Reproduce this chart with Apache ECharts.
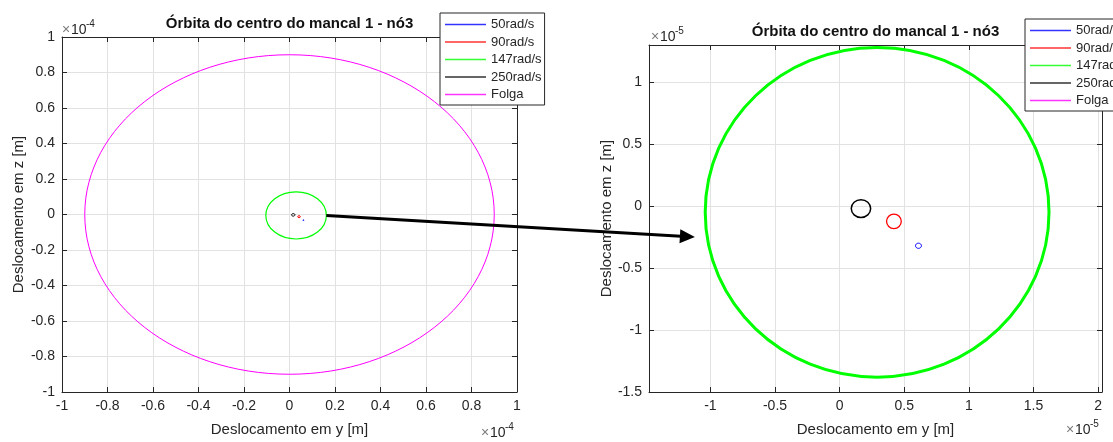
<!DOCTYPE html>
<html><head><meta charset="utf-8">
<script src="https://cdn.jsdelivr.net/npm/echarts@6/dist/echarts.min.js"></script>
<style>html,body{margin:0;padding:0;background:#fff}#c{width:1113px;height:442px}</style>
</head><body><div id="c"></div>
<script>
// ---- data ----
const seriesNames = ['50rad/s', '90rad/s', '147rad/s', '250rad/s', 'Folga'];
// orbit centre (y, z) and semi-axes (y, z) in metres
const orbitCenterY = [6.1e-6, 4.2e-6, 2.9e-6, 1.65e-6, 0];
const orbitCenterZ = [-3.2e-6, -1.23e-6, -0.5e-6, -0.2e-6, 0];
const orbitRadiusY = [0.23e-6, 0.57e-6, 13.3e-6, 0.75e-6, 90e-6];
const orbitRadiusZ = [0.21e-6, 0.59e-6, 13.3e-6, 0.72e-6, 90e-6];
const leftTicks = [-1, -0.8, -0.6, -0.4, -0.2, 0, 0.2, 0.4, 0.6, 0.8, 1];
const rightXTicks = [-1, -0.5, 0, 0.5, 1, 1.5, 2];
const rightYTicks = [-1.5, -1, -0.5, 0, 0.5, 1];
const leftRange = [-1, 1];
const rightXRange = [-1.475, 2.03];
const rightYRange = [-1.5, 1.3];
const leftExp = -4, rightExp = -5;
const arrowTip = [-1.12e-5, -0.25e-5];
const titleText = 'Órbita do centro do mancal 1 - nó3';
const xName = 'Deslocamento em y [m]';
const yName = 'Deslocamento em z [m]';

// ---- styles ----
const seriesColors = ['#0000ff', '#ff0000', '#00ff00', '#000000', '#ff00ff'];
const leftWidths = [1, 1, 1.2, 1, 1];
const rightWidths = [1, 1.3, 3, 1.5, 1];
const FONT = '"Liberation Sans", Arial, Helvetica, sans-serif';
const AX = '#262626';

const chart = echarts.init(document.getElementById('c'), null, {renderer: 'canvas'});

function fmt(v) { const s = String(Math.round(v * 1000) / 1000); return s === '-0' ? '0' : s; }

function mainAxis(gridIndex, pos, range, ticks, name, gap) {
  return {
    type: 'value', gridIndex, position: pos, min: range[0], max: range[1],
    name, nameLocation: 'middle', nameGap: gap,
    nameTextStyle: {fontSize: 15, color: AX, fontFamily: FONT},
    axisLine: {show: true, onZero: false, lineStyle: {color: AX, width: 1}},
    axisTick: {show: true, inside: true, length: 5, customValues: ticks, lineStyle: {color: AX}},
    axisLabel: {show: true, customValues: ticks, color: AX, fontSize: 14, fontFamily: FONT, margin: 7, formatter: fmt},
    splitLine: {show: true, customValues: ticks, lineStyle: {color: '#e2e2e2', width: 1}}
  };
}
function sideAxis(gridIndex, pos, range, ticks) {
  return {
    type: 'value', gridIndex, position: pos, min: range[0], max: range[1],
    axisLine: {show: true, onZero: false, lineStyle: {color: AX, width: 1}},
    axisTick: {show: true, inside: true, length: 5, customValues: ticks, lineStyle: {color: AX}},
    axisLabel: {show: false},
    splitLine: {show: false}
  };
}

const leftScale = Math.pow(10, -leftExp), rightScale = Math.pow(10, -rightExp);

function orbitSeries(i, xIdx, yIdx, scale, width) {
  return {
    type: 'custom', name: seriesNames[i], xAxisIndex: xIdx, yAxisIndex: yIdx, clip: true, silent: true, z: 3,
    data: [[orbitCenterY[i] * scale, orbitCenterZ[i] * scale, orbitRadiusY[i] * scale, orbitRadiusZ[i] * scale]],
    encode: {x: 0, y: 1},
    renderItem: function (params, api) {
      const c = api.coord([api.value(0), api.value(1)]);
      const s = api.size([api.value(2), api.value(3)], [api.value(0), api.value(1)]);
      return {type: 'ellipse', shape: {cx: c[0], cy: c[1], rx: s[0], ry: s[1]},
              style: {fill: 'none', stroke: seriesColors[i], lineWidth: width}};
    }
  };
}

const series = [];
// legend proxies (thin line icons)
seriesNames.forEach((n, i) => series.push({
  type: 'scatter', name: n, data: [], xAxisIndex: 0, yAxisIndex: 0,
  color: seriesColors[i], itemStyle: {color: seriesColors[i]}
}));
seriesNames.forEach((n, i) => series.push(orbitSeries(i, 0, 0, leftScale, leftWidths[i])));
seriesNames.forEach((n, i) => series.push(orbitSeries(i, 2, 2, rightScale, rightWidths[i])));

const LINE_ICON = 'path://M0,0H41V1.4H0Z';
function legendAt(left, top) {
  return {
    data: seriesNames.map(n => ({name: n, icon: LINE_ICON})),
    orient: 'vertical', left, top, selectedMode: false,
    itemWidth: 41, itemHeight: 12, itemGap: 4.5, padding: [5, 3, 4, 5],
    backgroundColor: '#fff', borderColor: AX, borderWidth: 1, borderRadius: 0,
    textStyle: {fontSize: 13, color: AX, fontFamily: FONT}, z: 10
  };
}

const grids = [
  {left: 62, top: 37, width: 455, height: 359},
  {left: 649, top: 45, width: 453, height: 350}
];

chart.setOption({
  animation: false,
  backgroundColor: '#fff',
  title: [
    {text: titleText, left: grids[0].left + grids[0].width / 2, top: 16, textAlign: 'center', padding: 0,
     textStyle: {fontSize: 15, fontWeight: 'bold', color: '#111', fontFamily: FONT}},
    {text: titleText, left: grids[1].left + grids[1].width / 2, top: 24, textAlign: 'center', padding: 0,
     textStyle: {fontSize: 15, fontWeight: 'bold', color: '#111', fontFamily: FONT}}
  ],
  legend: [legendAt(440, 13), legendAt(1025, 19)],
  grid: grids.map(g => Object.assign({containLabel: false}, g)),
  xAxis: [
    mainAxis(0, 'bottom', leftRange, leftTicks, xName, 30),
    sideAxis(0, 'top', leftRange, leftTicks),
    mainAxis(1, 'bottom', rightXRange, rightXTicks, xName, 30),
    sideAxis(1, 'top', rightXRange, rightXTicks)
  ],
  yAxis: [
    mainAxis(0, 'left', leftRange, leftTicks, yName, 36),
    sideAxis(0, 'right', leftRange, leftTicks),
    mainAxis(1, 'left', rightYRange, rightYTicks, yName, 34),
    sideAxis(1, 'right', rightYRange, rightYTicks)
  ],
  series
});

// ---- annotations: exponent labels and arrow ----
function expLabel(x, y, exp, alignRight) {
  const base = {type: 'text', z: 20, silent: true};
  const x0 = alignRight ? x - 36 : x;
  return [
    Object.assign({}, base, {x: x0, y: y, style: {text: '×', fill: '#7a7a7a', font: '14px ' + FONT, verticalAlign: 'middle'}}),
    Object.assign({}, base, {x: x0 + 9, y: y, style: {text: '10', fill: AX, font: '14px ' + FONT, verticalAlign: 'middle'}}),
    Object.assign({}, base, {x: x0 + 24, y: y - 6, style: {text: String(exp), fill: AX, font: '10px ' + FONT, verticalAlign: 'middle'}})
  ];
}

const gi = grids;
const g0 = orbitCenterY[2] + orbitRadiusY[2];
const p0 = chart.convertToPixel({xAxisIndex: 0, yAxisIndex: 0}, [g0 * leftScale, orbitCenterZ[2] * leftScale]);
const p1 = chart.convertToPixel({xAxisIndex: 2, yAxisIndex: 2}, [arrowTip[0] * rightScale, arrowTip[1] * rightScale]);
const dx = p1[0] - p0[0], dy = p1[1] - p0[1], L = Math.hypot(dx, dy);
const ux = dx / L, uy = dy / L, head = 15, hw = 7;
const bx = p1[0] - ux * head, by = p1[1] - uy * head;

chart.setOption({
  graphic: [].concat(
    expLabel(gi[0].left, gi[0].top - 7, leftExp, false),
    expLabel(gi[0].left + gi[0].width, 433, leftExp, true),
    expLabel(gi[1].left + 2, gi[1].top - 8, rightExp, false),
    expLabel(gi[1].left + gi[1].width, 430, rightExp, true),
    [
      {type: 'line', z: 30, silent: true, shape: {x1: p0[0], y1: p0[1], x2: bx + ux, y2: by + uy},
       style: {stroke: '#000', lineWidth: 3}},
      {type: 'polygon', z: 30, silent: true,
       shape: {points: [[p1[0], p1[1]], [bx - uy * hw, by + ux * hw], [bx + uy * hw, by - ux * hw]]},
       style: {fill: '#000'}}
    ]
  )
});
</script></body></html>
